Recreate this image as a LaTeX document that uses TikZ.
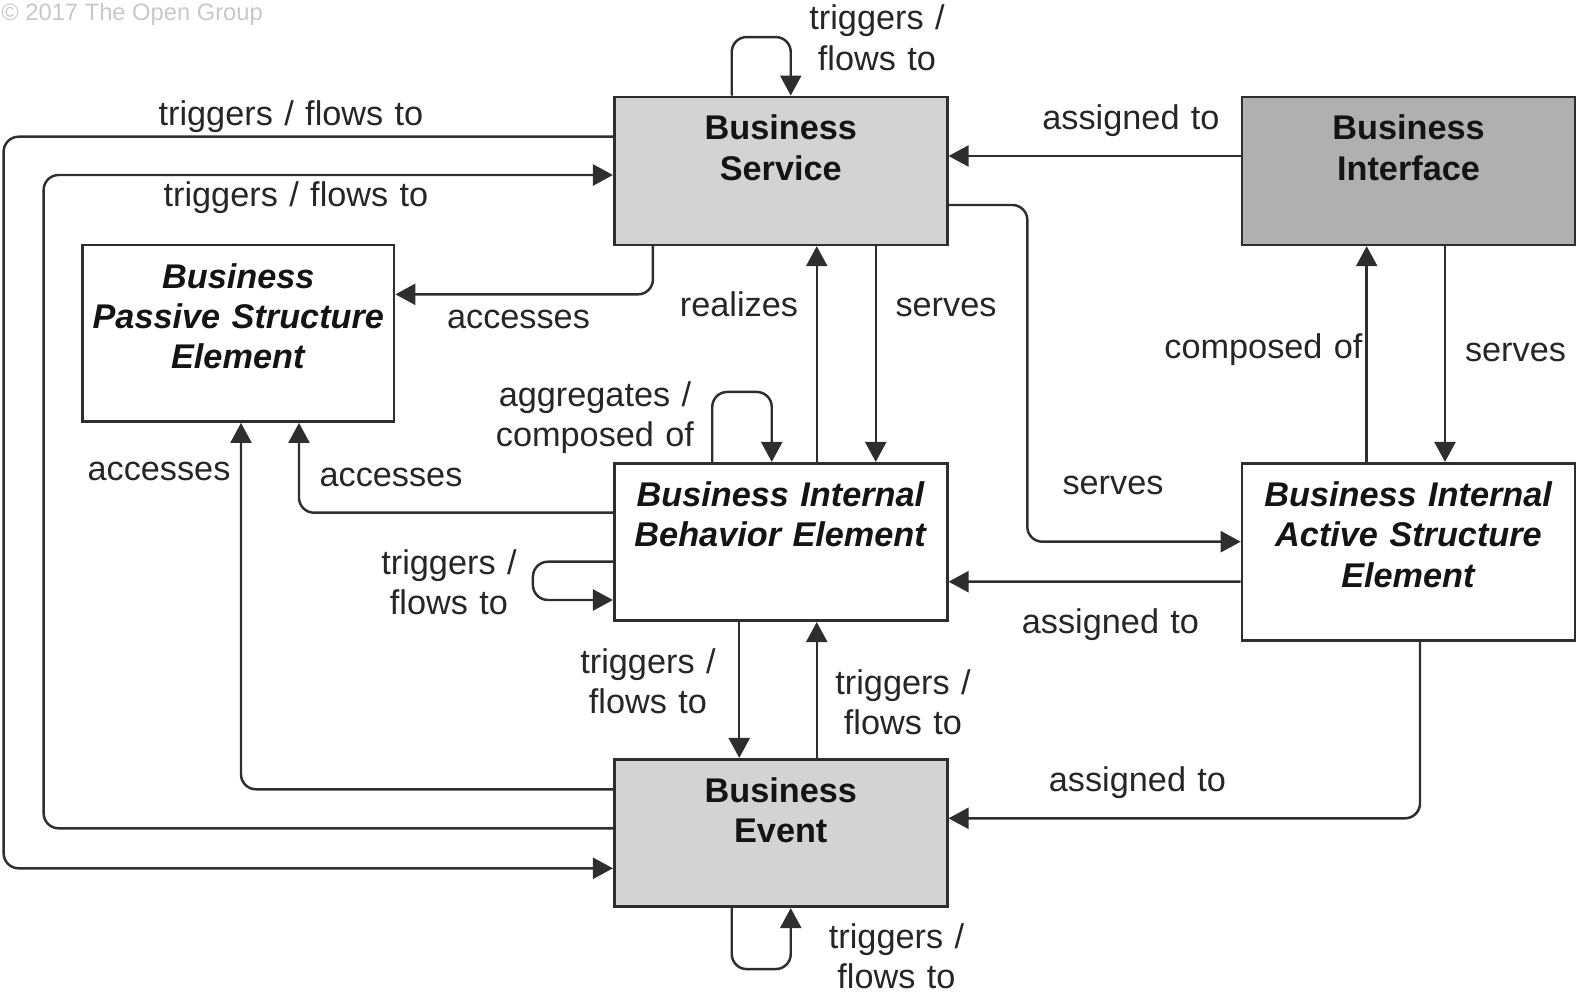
\documentclass[tikz,border=0pt]{standalone}
\usepackage{fontspec}
\setmainfont{Liberation Sans}
\usepackage{xcolor}
\usetikzlibrary{arrows.meta,positioning}
\definecolor{ink}{HTML}{141414}
\definecolor{edge}{HTML}{2E2E2E}
\definecolor{labelc}{HTML}{262626}
\definecolor{lightfill}{HTML}{D3D3D3}
\definecolor{darkfill}{HTML}{B0B0B0}
\definecolor{faint}{HTML}{C8C8C8}

\begin{document}
\begin{tikzpicture}[
  font=\fontsize{19.5}{23}\selectfont,
  elem/.style={draw=edge,line width=1.5pt,fill=white,align=center,text width=6.46cm,inner xsep=0.1cm,inner ysep=0.2cm,text height=0.66cm,text=ink},
  svcelem/.style={elem,fill=lightfill},
  ifcelem/.style={elem,fill=darkfill},
  lbl/.style={text=labelc,inner sep=0pt,anchor=base,align=center,text width=8cm},
  fl/.style={-{Triangle[length=0.4cm,width=0.42cm]},draw=edge,line width=1.4pt,rounded corners=0.3cm}
]
\useasboundingbox (0,0) rectangle (31.54,-19.92);
\node[font=\fontsize{13.5}{15}\selectfont,text=faint,anchor=base west,inner sep=0pt] (copy) at (0.02,-0.41) {© 2017 The Open Group};
\node[svcelem,text depth=1.9cm] (svc) at (15.615,-3.417) {\textbf{Business}\\\textbf{Service}};
\node[ifcelem,text depth=1.9cm] (ifc) at (28.17,-3.417) {\textbf{Business}\\\textbf{Interface}};
\node[elem,text width=6.03cm,text depth=2.47cm] (psv) at (4.767,-6.667) {\textbf{\itshape Business}\\\textbf{\itshape Passive Structure}\\\textbf{\itshape Element}};
\node[elem,text depth=2.09cm] (beh) at (15.615,-10.84) {\textbf{\itshape Business Internal}\\\textbf{\itshape Behavior Element}};
\node[elem,text depth=2.49cm] (act) at (28.17,-11.04) {\textbf{\itshape Business Internal}\\\textbf{\itshape Active Structure}\\\textbf{\itshape Element}};
\node[svcelem,text depth=1.89cm] (evt) at (15.615,-16.66) {\textbf{Business}\\\textbf{Event}};
% long loops on the left
\draw[fl] ([yshift=0.683cm]svc.west) -- ++(-12.186,0) |- ([yshift=-0.706cm]evt.west);
\draw[fl] ([yshift=0.094cm]evt.west) -- ++(-11.386,0) |- ([yshift=-0.083cm]svc.west);
\draw[fl] ([yshift=0.874cm]evt.west) -| ([xshift=0.053cm]psv.south);
\draw[fl] ([yshift=0.586cm]beh.west) -| ([xshift=1.213cm]psv.south);
\draw[fl] ([xshift=-2.556cm]svc.south) |- ([yshift=0.78cm]psv.east);
% middle column
\draw[fl] ([xshift=0.72cm]beh.north) -- ([xshift=0.72cm]svc.south);
\draw[fl] ([xshift=1.9cm]svc.south) -- ([xshift=1.9cm]beh.north);
\draw[fl] ([xshift=-0.83cm]beh.south) -- ([xshift=-0.83cm]evt.north);
\draw[fl] ([xshift=0.72cm]evt.north) -- ([xshift=0.72cm]beh.south);
\draw[fl] ([xshift=-0.98cm]svc.north) -- ++(0,1.17) -| ([xshift=0.2cm]svc.north);
\draw[fl] ([xshift=-1.37cm]beh.north) -- ++(0,1.4) -| ([xshift=-0.18cm]beh.north);
\draw[fl] ([yshift=-0.394cm]beh.west) -- ++(-1.6,0) |- ([yshift=-1.16cm]beh.west);
\draw[fl] ([xshift=-0.98cm]evt.south) -- ++(0,-1.22) -| ([xshift=0.2cm]evt.south);
% right side
\draw[fl] ([yshift=0.297cm]ifc.west) -- ([yshift=0.297cm]svc.east);
\draw[fl] ([yshift=-0.683cm]svc.east) -- ++(1.575,0) |- ([yshift=0.206cm]act.west);
\draw[fl] ([yshift=-0.594cm]act.west) -- ([yshift=-0.794cm]beh.east);
\draw[fl] ([xshift=-0.836cm]act.north) -- ([xshift=-0.836cm]ifc.south);
\draw[fl] ([xshift=0.73cm]ifc.south) -- ([xshift=0.73cm]act.north);
\draw[fl] ([xshift=0.23cm]act.south) |- ([yshift=0.294cm]evt.east);
% labels
\node[lbl] (l-svcloop) at (17.54,-0.6) {triggers /\\flows to};
\node[lbl] (l-outer) at (5.82,-2.52) {triggers / flows to};
\node[lbl] (l-inner) at (5.92,-4.12) {triggers / flows to};
\node[lbl] (l-ifcsvc) at (22.62,-2.59) {assigned to};
\node[lbl] (l-svcpsv) at (10.37,-6.56) {accesses};
\node[lbl] (l-real) at (14.78,-6.33) {realizes};
\node[lbl] (l-svcbeh) at (18.92,-6.33) {serves};
\node[lbl] (l-comp) at (25.27,-7.16) {composed of};
\node[lbl] (l-ifcact) at (30.31,-7.22) {serves};
\node[lbl] (l-behloop) at (11.9,-8.12) {aggregates /\\composed of};
\node[lbl] (l-evtpsv) at (3.18,-9.6) {accesses};
\node[lbl] (l-behpsv) at (7.82,-9.72) {accesses};
\node[lbl] (l-svcact) at (22.26,-9.88) {serves};
\node[lbl] (l-behleft) at (8.98,-11.49) {triggers /\\flows to};
\node[lbl] (l-actbeh) at (22.21,-12.66) {assigned to};
\node[lbl] (l-behevt) at (12.96,-13.46) {triggers /\\flows to};
\node[lbl] (l-evtbeh) at (18.06,-13.88) {triggers /\\flows to};
\node[lbl] (l-actevt) at (22.75,-15.83) {assigned to};
\node[lbl] (l-evtloop) at (17.93,-18.96) {triggers /\\flows to};
\end{tikzpicture}
\end{document}
